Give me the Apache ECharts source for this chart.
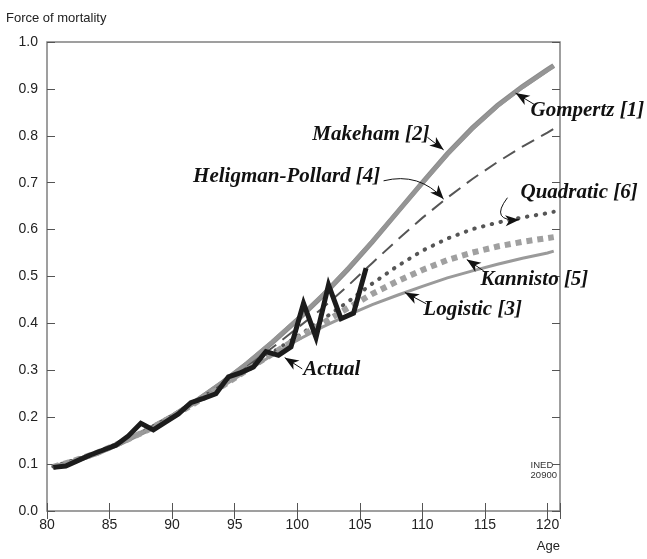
<!DOCTYPE html>
<html><head><meta charset="utf-8">
<script src="https://cdn.jsdelivr.net/npm/echarts@6/dist/echarts.min.js"></script>
<style>html,body{margin:0;padding:0;background:#fff}#c{width:647px;height:559px}</style>
</head><body><div id="c"></div>
<script>
const modelAges = [80.5,82,84,86,88,90,92,94,96,98,100,102,104,106,108,110,112,114,116,118,120,120.5];
const gompertz  = [0.093,0.105,0.123,0.146,0.172,0.202,0.236,0.273,0.314,0.359,0.407,0.458,0.514,0.574,0.637,0.700,0.762,0.817,0.865,0.905,0.941,0.950];
const makeham   = [0.094,0.106,0.124,0.147,0.173,0.203,0.237,0.275,0.316,0.361,0.409,0.460,0.516,0.575,0.637,0.699,0.760,0.815,0.863,0.904,0.940,0.948];
const heligman  = [0.094,0.106,0.124,0.147,0.172,0.202,0.235,0.270,0.308,0.348,0.390,0.432,0.479,0.529,0.578,0.625,0.668,0.708,0.744,0.777,0.807,0.815];
const quadratic = [0.095,0.107,0.125,0.148,0.173,0.203,0.235,0.269,0.304,0.338,0.372,0.408,0.445,0.485,0.522,0.555,0.581,0.601,0.615,0.626,0.635,0.638];
const kannisto  = [0.094,0.106,0.124,0.147,0.172,0.201,0.233,0.266,0.301,0.335,0.368,0.400,0.432,0.463,0.490,0.514,0.535,0.551,0.564,0.574,0.582,0.584];
const logistic  = [0.094,0.106,0.124,0.147,0.172,0.201,0.232,0.265,0.299,0.332,0.364,0.392,0.417,0.440,0.460,0.479,0.497,0.512,0.526,0.539,0.550,0.554];
const actualAges = [80.5,81.5,82.5,83.5,84.5,85.5,86.5,87.5,88.5,89.5,90.5,91.5,92.5,93.5,94.5,95.5,96.5,97.5,98.5,99.5,100.5,101.5,102.5,103.5,104.5,105.5];
const actual     = [0.093,0.096,0.108,0.120,0.130,0.140,0.160,0.187,0.173,0.190,0.207,0.231,0.240,0.250,0.286,0.295,0.307,0.340,0.332,0.350,0.443,0.370,0.482,0.410,0.422,0.518];
const xTicks = [80,85,90,95,100,105,110,115,120];

// annotations: [label, textAge, textVal, align, arrowFrom, arrowTo, curveness]
const notes = [
  ['Gompertz [1]', 118.64, 0.853, 'left', [119.0,0.866],[117.45,0.891], 0],
  ['Makeham [2]', 101.2, 0.802, 'left', [110.4,0.797],[111.7,0.770], 0],
  ['Heligman-Pollard [4]', 106.64, 0.712, 'right', [106.9,0.704],[111.7,0.665], 0.3],
  ['Quadratic [6]', 117.84, 0.678, 'left', [116.8,0.668],[117.75,0.621], -1.1],
  ['Kannisto [5]', 114.64, 0.4925, 'left', [114.9,0.512],[113.55,0.536], 0],
  ['Logistic [3]', 110.08, 0.4286, 'left', [110.3,0.442],[108.6,0.466], 0],
  ['Actual', 100.48, 0.3006, 'left', [100.4,0.303],[99.0,0.327], 0]
];

const pair = (xs, ys) => xs.map((x,i)=>[x, ys[i]]);
const chart = echarts.init(document.getElementById('c'));
const tickStyle = {show:true, inside:true, length:8, lineStyle:{color:'#555', width:1}};
const lbl = {color:'#222', fontSize:14, fontFamily:'"Liberation Sans", Arial, sans-serif'};
function line(name, xs, ys, color, width, type, z, cap) {
  return {name, type:'line', data:pair(xs,ys), showSymbol:false, symbol:'none', z,
    lineStyle:{color, width, type, cap: cap||'butt', join:'miter'}, animation:false};
}
const series = [
  line('Gompertz', modelAges, gompertz, '#8c8c8c', 5, 'solid', 2),
  line('Makeham', modelAges, makeham, '#959595', 4, 'solid', 2),
  line('Heligman-Pollard', modelAges, heligman, '#555555', 2, [14,8], 3),
  line('Quadratic', modelAges, quadratic, '#555555', 4, [0.5,8.5], 3, 'round'),
  line('Kannisto', modelAges, kannisto, '#a0a0a0', 6, [6,5], 3),
  line('Logistic', modelAges, logistic, '#9a9a9a', 3, 'solid', 3),
  line('Actual', actualAges, actual, '#1c1c1c', 5, 'solid', 5)
];
chart.setOption({
  animation:false,
  grid:{left:47, right:87, top:42, bottom:48, show:true, borderColor:'#808080', borderWidth:1.5},
  xAxis:[
    {type:'value', min:80, max:121, interval:5, position:'bottom',
     axisLine:{show:false}, splitLine:{show:false}, axisTick:tickStyle,
     axisLabel:Object.assign({margin:7, showMaxLabel:true, formatter:v=> xTicks.indexOf(v)>=0 ? String(v) : ''}, lbl)},
    {type:'value', min:80, max:121, interval:5, position:'top',
     axisLine:{show:false}, splitLine:{show:false}, axisTick:tickStyle, axisLabel:{show:false}}
  ],
  yAxis:[
    {type:'value', min:0, max:1, interval:0.1, position:'left',
     axisLine:{show:false}, splitLine:{show:false}, axisTick:tickStyle,
     axisLabel:Object.assign({margin:9, formatter:v=>v.toFixed(1)}, lbl)},
    {type:'value', min:0, max:1, interval:0.1, position:'right',
     axisLine:{show:false}, splitLine:{show:false}, axisTick:tickStyle, axisLabel:{show:false}}
  ],
  series
});
const g = [
  {type:'text', left:6, top:12, style:{text:'Force of mortality', fill:'#222', font:'13px "Liberation Sans", Arial, sans-serif'}},
  {type:'text', right:87, top:540, style:{text:'Age', fill:'#222', font:'13px "Liberation Sans", Arial, sans-serif'}},
  {type:'text', right:90, top:460, style:{text:'INED\n20900', fill:'#333', align:'right', lineHeight:10, font:'9.5px "Liberation Sans", Arial, sans-serif'}}
];
notes.forEach(n => {
  const p = chart.convertToPixel({gridIndex:0}, [n[1], n[2]]);
  g.push({type:'text', x:p[0], y:p[1], z:10, style:{text:n[0], fill:'#111', align:n[3], verticalAlign:'middle',
    font:'italic bold 21px "Liberation Serif", "Times New Roman", serif'}});
  const a = chart.convertToPixel({gridIndex:0}, n[4]);
  const b = chart.convertToPixel({gridIndex:0}, n[5]);
  const c = n[6];
  const cp = [(a[0]+b[0])/2 - (a[1]-b[1])*c, (a[1]+b[1])/2 - (b[0]-a[0])*c];
  let dx, dy;
  if (c !== 0) {
    g.push({type:'bezierCurve', z:9, shape:{x1:a[0], y1:a[1], x2:b[0], y2:b[1], cpx1:cp[0], cpy1:cp[1]},
      style:{stroke:'#111', lineWidth:1, fill:null}});
    dx = b[0]-cp[0]; dy = b[1]-cp[1];
  } else {
    g.push({type:'line', z:9, shape:{x1:a[0], y1:a[1], x2:b[0], y2:b[1]}, style:{stroke:'#111', lineWidth:1}});
    dx = b[0]-a[0]; dy = b[1]-a[1];
  }
  const len = Math.hypot(dx, dy) || 1; const ux = dx/len, uy = dy/len;
  const L = 14, W = 5.5;
  const bx = b[0]-ux*L, by = b[1]-uy*L;
  g.push({type:'polygon', z:10, shape:{points:[[b[0],b[1]],[bx-uy*W, by+ux*W],[b[0]-ux*L*0.72, b[1]-uy*L*0.72],[bx+uy*W, by-ux*W]]},
    style:{fill:'#111'}});
});
chart.setOption({graphic:g});
</script></body></html>
